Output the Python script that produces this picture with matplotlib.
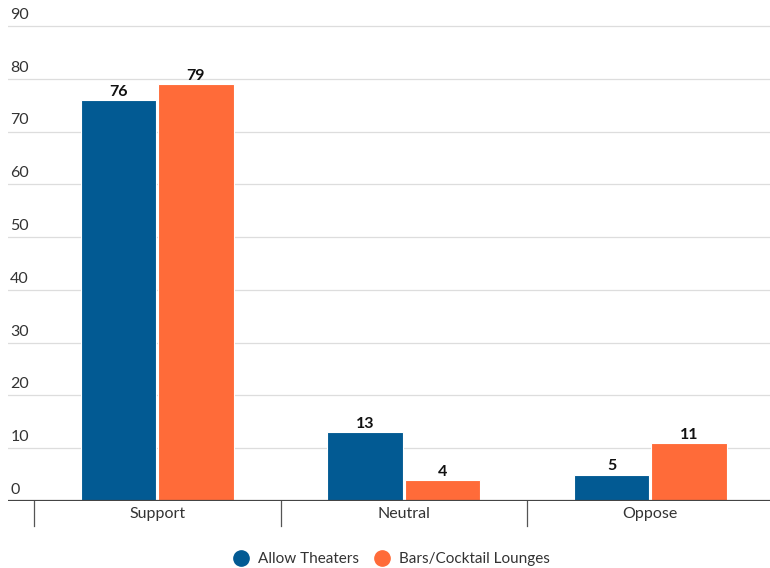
import matplotlib.pyplot as plt
import matplotlib.transforms as mtransforms
from matplotlib.lines import Line2D
import numpy as np

plt.rcParams['font.family'] = ['Lato', 'DejaVu Sans']

categories = ["Support", "Neutral", "Oppose"]
series_names = ["Allow Theaters", "Bars/Cocktail Lounges"]
allow_theaters = [76, 13, 5]
bars_lounges = [79, 4, 11]
y_ticks = [0, 10, 20, 30, 40, 50, 60, 70, 80, 90]

BLUE = "#025A93"
ORANGE = "#FF6B39"
TEXT = "#333333"
FS = 11.5

W, H = 770, 568
fig = plt.figure(figsize=(W / 100, H / 100), dpi=100)

# axes in pixel terms: baseline at y=501, 90 at y=26
px_per_unit = (501 - 26) / 90
ytop = 92
ax = fig.add_axes([8 / W, (H - 501) / H, (770 - 8) / W, ytop * px_per_unit / H])
ax.set_ylim(0, ytop)
cat_w = 246.5
ax.set_xlim(-0.5 - 26 / cat_w, -0.5 + (770 - 34) / cat_w)

x = np.arange(len(categories))
bw = 0.305
off = 0.157
b1 = ax.bar(x - off, allow_theaters, bw, color=BLUE, edgecolor="white", linewidth=0.8, zorder=3)
b2 = ax.bar(x + off, bars_lounges, bw, color=ORANGE, edgecolor="white", linewidth=0.8, zorder=3)

for bars, vals in ((b1, allow_theaters), (b2, bars_lounges)):
    for rect, v in zip(bars, vals):
        ax.annotate(str(v), (rect.get_x() + rect.get_width() / 2, v),
                    xytext=(0, 1), textcoords="offset points",
                    ha="center", va="bottom", fontsize=FS, fontweight="bold",
                    color="#111111")

# gridlines and y labels sitting above them
label_tr = mtransforms.blended_transform_factory(ax.transAxes, ax.transData)
for t in y_ticks:
    if t > 0:
        ax.axhline(t, color="#dddddd", linewidth=0.9, zorder=1)
    ax.annotate(str(t), (0.003, t), xycoords=label_tr,
                xytext=(0, 3), textcoords="offset points",
                ha="left", va="bottom", fontsize=FS, color=TEXT)

ax.axhline(0, color="#444444", linewidth=1.6, zorder=4)

# category dividers below the baseline
div_tr = mtransforms.blended_transform_factory(ax.transData, ax.transAxes)
for d in [-0.5, 0.5, 1.5]:
    ax.add_line(Line2D([d, d], [0, -25 / (ytop * px_per_unit)], transform=div_tr,
                       color="#555555", linewidth=0.9, clip_on=False))

for i, c in enumerate(categories):
    ax.annotate(c, (i, 0), xycoords=("data", "data"), xytext=(0, -4),
                textcoords="offset points", ha="center", va="top",
                fontsize=FS, color=TEXT)

for s in ax.spines.values():
    s.set_visible(False)
ax.set_xticks([])
ax.set_yticks([])

handles = [Line2D([], [], marker="o", linestyle="none", markersize=11,
                  markerfacecolor=col, markeredgecolor=col)
           for col in (BLUE, ORANGE)]
fig.legend(handles, series_names, loc="center", bbox_to_anchor=(388 / W, 1 - 559 / H),
           ncol=2, frameon=False, handletextpad=0.1, columnspacing=0.5,
           labelcolor=TEXT, prop={"size": 11})

fig.savefig("out.png", dpi=100, facecolor="white")
